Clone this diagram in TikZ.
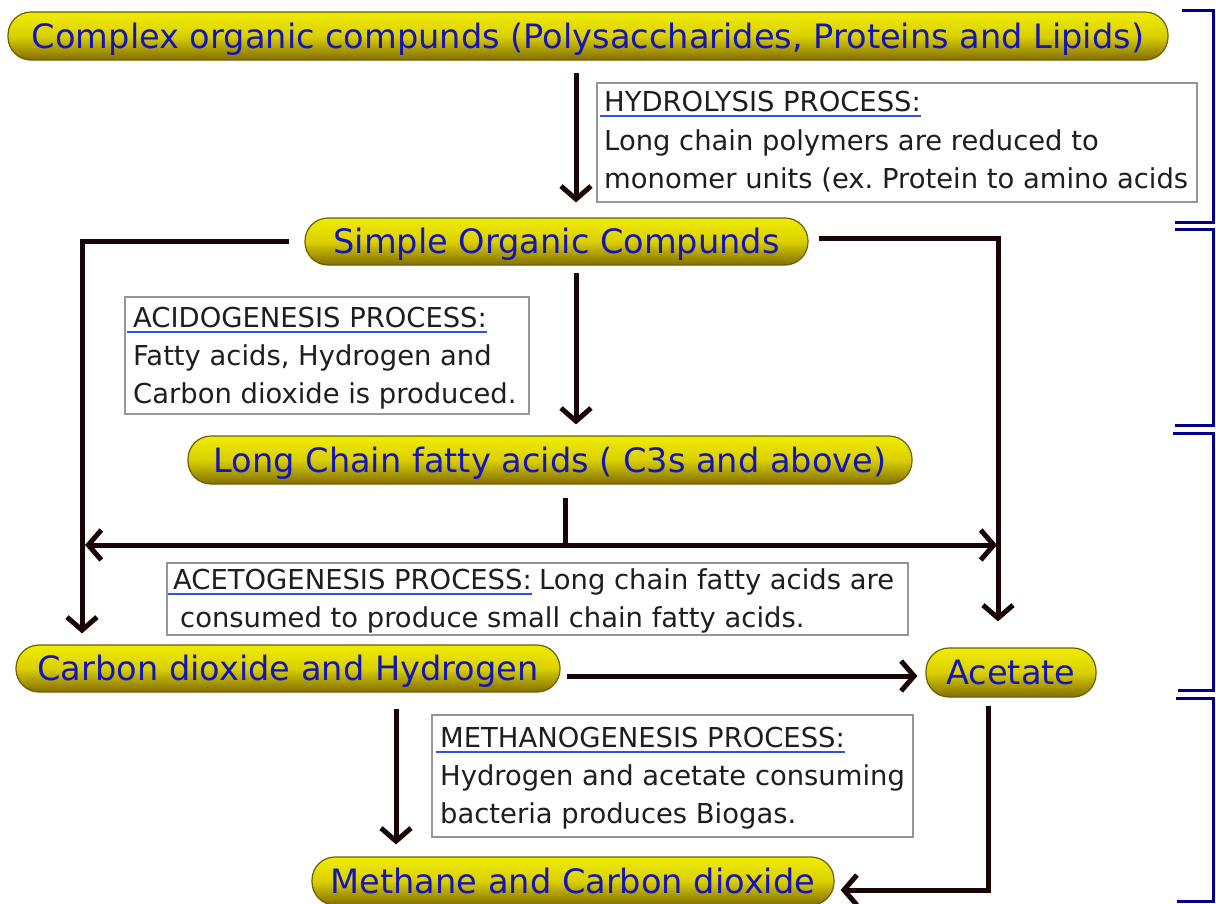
\documentclass[tikz,border=0pt]{standalone}
\usepackage{fontspec}
\setmainfont{DejaVu Sans}
\frenchspacing
\usetikzlibrary{arrows.meta,calc}
\definecolor{pilltext}{RGB}{20,20,185}
\definecolor{ytop}{RGB}{240,236,0}
\definecolor{ymid}{RGB}{218,208,0}
\definecolor{ybot}{RGB}{130,110,0}
\definecolor{yedge}{RGB}{110,95,0}
\definecolor{arrowc}{RGB}{25,5,5}
\definecolor{boxedge}{RGB}{150,150,150}
\definecolor{boxtext}{RGB}{30,30,30}
\definecolor{ulblue}{RGB}{50,80,230}
\definecolor{navyc}{RGB}{0,0,140}
\begin{document}
\begin{tikzpicture}[x=1pt,y=-1pt,
  pill/.style={rectangle, rounded corners=23pt, draw=yedge, line width=1.2pt,
    top color=ytop, bottom color=ybot, middle color=ymid, text=pilltext,
    font=\fontsize{33.6}{40}\selectfont, inner sep=0pt, text height=24.5pt, text depth=0pt},
  procbox/.style={draw=boxedge, line width=1.5pt, fill=white, inner sep=0pt, anchor=north west},
  ptext/.style={anchor=base west, inner sep=0pt, text=boxtext, font=\fontsize{27.4}{38}\selectfont},
  uline/.style={draw=ulblue, line width=1.8pt},
  arr/.style={draw=arrowc, line width=5pt, -{Straight Barb[length=13pt,width=30pt]}},
  plain/.style={draw=arrowc, line width=5pt},
  brk/.style={draw=navyc, line width=3pt}]
\useasboundingbox (0,0) rectangle (1216,903);
\fill[white] (0,0) rectangle (1216,903);

% pills
\node[pill, minimum width=1160pt, minimum height=48pt] (c1) at (588,36) {Complex organic compunds (Polysaccharides, Proteins and Lipids)};
\node[pill, minimum width=503pt, minimum height=47pt] (c2) at (556.5,241.5) {Simple Organic Compunds};
\node[pill, minimum width=724pt, minimum height=48pt] (c3) at (550,460) {Long Chain fatty acids ( C3s and above)};
\node[pill, minimum width=544pt, minimum height=47pt] (c4) at (288,668.5) {Carbon dioxide and Hydrogen};
\node[pill, minimum width=170pt, minimum height=49pt] (c5) at (1011,672.5) {Acetate};
\node[pill, minimum width=522pt, minimum height=48pt] (c6) at (573,881) {Methane and Carbon dioxide};

% process boxes
\node[procbox, minimum width=600pt, minimum height=119pt] (hbox) at (596,82) {};
\node[ptext] (hT) at (604,111) {HYDROLYSIS PROCESS:};
\node[ptext] (h2) at (604,150) {Long chain polymers are reduced to};
\node[ptext] (h3) at (604,188) {monomer units (ex. Protein to amino acids};
\draw[uline] ([xshift=-4pt,yshift=-5pt]hT.base west) -- ([yshift=-5pt]hT.base east);

\node[procbox, minimum width=404pt, minimum height=117pt] (abox) at (124,296) {};
\node[ptext] (aT) at (133,327) {ACIDOGENESIS PROCESS:};
\node[ptext] (a2) at (133,365) {Fatty acids, Hydrogen and};
\node[ptext] (a3) at (133,403) {Carbon dioxide is produced.};
\draw[uline] ([xshift=-6pt,yshift=-5pt]aT.base west) -- ([yshift=-5pt]aT.base east);

\node[procbox, minimum width=741pt, minimum height=72pt] (cbox) at (166,562) {};
\node[ptext] (cT) at (173,589) {ACETOGENESIS PROCESS:};
\node[ptext, anchor=base west] (cR) at ([xshift=7pt]cT.base east) {Long chain fatty acids are};
\node[ptext] (c2l) at (180,627) {consumed to produce small chain fatty acids.};
\draw[uline] ([xshift=-5pt,yshift=-5pt]cT.base west) -- ([yshift=-5pt]cT.base east);

\node[procbox, minimum width=481pt, minimum height=122pt] (mbox) at (431,714) {};
\node[ptext] (mT) at (440,747) {METHANOGENESIS PROCESS:};
\node[ptext] (m2) at (440,785) {Hydrogen and acetate consuming};
\node[ptext] (m3) at (440,823) {bacteria produces Biogas.};
\draw[uline] ([xshift=-4pt,yshift=-5pt]mT.base west) -- ([yshift=-5pt]mT.base east);

% connectors
\draw[arr] ([xshift=-12pt,yshift=-12pt]c1.south) -- ([xshift=19.5pt,yshift=15pt]c2.north);
\draw[arr] ([xshift=-15pt]c2.west) -| ([xshift=-206pt,yshift=11pt]c4.north);
\draw[arr] ([xshift=10pt,yshift=3pt]c2.east) -| ([xshift=-13pt,yshift=26pt]c5.north);
\draw[arr] ([xshift=19.5pt,yshift=-7pt]c2.south) -- ([xshift=26pt,yshift=11pt]c3.north);
\coordinate (sp) at (565,545);
\coordinate (spL) at (85,545);
\coordinate (spR) at (997,545);
\draw[plain] ([xshift=15pt,yshift=-13pt]c3.south) -- (sp);
\draw[arr, shorten <=-2.5pt] (sp) -- (spL);
\draw[arr, shorten <=-2.5pt] (sp) -- (spR);
\draw[arr] ([xshift=6pt,yshift=-7.5pt]c4.east) -- ([xshift=-8pt,yshift=-3.5pt]c5.west);
\draw[arr] ([xshift=108pt,yshift=-16pt]c4.south) -- ([xshift=-177pt,yshift=12pt]c6.north);
\draw[arr] ([xshift=-23pt,yshift=-8pt]c5.south) |- ([xshift=6pt,yshift=-9pt]c6.east);

% right brackets
\draw[brk] (1182,10) -- (1213,10) -- (1213,222) -- (1175,222);
\draw[brk] (1175,229) -- (1213,229) -- (1213,425) -- (1175,425);
\draw[brk] (1173,433) -- (1213,433) -- (1213,690) -- (1178,690);
\draw[brk] (1176,698) -- (1213,698) -- (1213,901) -- (1177,901);
\end{tikzpicture}
\end{document}
